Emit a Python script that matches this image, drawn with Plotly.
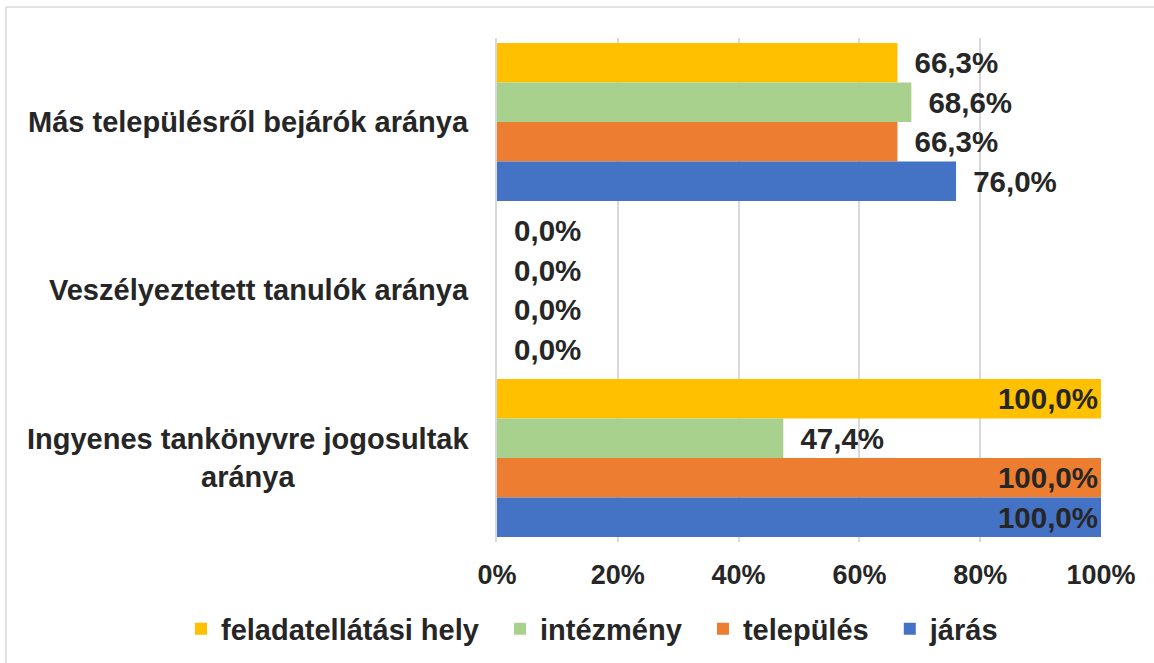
import plotly.graph_objects as go

categories = ["Más településről bejárók aránya",
              "Veszélyeztetett tanulók aránya",
              "Ingyenes tankönyvre jogosultak aránya"]
category_labels = ["Más településről bejárók aránya",
                   "Veszélyeztetett tanulók aránya",
                   "Ingyenes tankönyvre jogosultak<br>aránya"]
series_names = ["feladatellátási hely", "intézmény", "település", "járás"]
feladatellatasi_hely = [66.3, 0.0, 100.0]
intezmeny = [68.6, 0.0, 47.4]
telepules = [66.3, 0.0, 100.0]
jaras = [76.0, 0.0, 100.0]
x_tickvals = [0, 20, 40, 60, 80, 100]
x_ticktext = ["0%", "20%", "40%", "60%", "80%", "100%"]

colors = ["#FFC000", "#A9D18E", "#ED7D31", "#4472C4"]
TXT = "#262626"
FONT = "Liberation Sans, Arial, sans-serif"

W, H = 1154, 663
ML, MR, MT, MB = 497, 53, 38, 121
PW, PH = W - ML - MR, H - MT - MB

fig = go.Figure()
for name, vals, col in zip(series_names,
                           [feladatellatasi_hely, intezmeny, telepules, jaras],
                           colors):
    texts = ["\u00a0\u2009" + f"{v:.1f}".replace(".", ",") + "%" for v in vals]
    pos = ["inside" if v >= 100 else "outside" for v in vals]
    fig.add_trace(go.Bar(
        y=categories, x=vals, name=name + "\u00a0\u00a0", orientation="h",
        marker=dict(color=col, line=dict(width=0)),
        text=texts, textposition=pos, insidetextanchor="end",
        constraintext="none", cliponaxis=False, textangle=0,
        textfont=dict(family=FONT, size=29.5, color=TXT, weight="bold"),
        insidetextfont=dict(family=FONT, size=29.5, color=TXT, weight="bold"),
        outsidetextfont=dict(family=FONT, size=29.5, color=TXT, weight="bold"),
        hoverinfo="skip",
    ))

for cat, lab in zip(categories, category_labels):
    fig.add_annotation(
        x=0, xref="paper", xanchor="right", xshift=-26,
        y=cat, yref="y", yanchor="middle",
        text=lab, align="center", showarrow=False,
        font=dict(family=FONT, size=29, color=TXT, weight="bold"),
    )

# chart-area border (top and left edges visible in the reference)
bx0 = (6 - ML) / PW
bx1 = (W + 20 - ML) / PW
by_top = 1 + (MT - 7) / PH
by_bot = -(H + 20 - MT - PH) / PH
fig.add_shape(type="line", xref="paper", yref="paper",
              x0=bx0, x1=bx1, y0=by_top, y1=by_top,
              line=dict(color="#d9d9d9", width=1.5), layer="below")
fig.add_shape(type="line", xref="paper", yref="paper",
              x0=bx0, x1=bx0, y0=by_top, y1=by_bot,
              line=dict(color="#d9d9d9", width=1.5), layer="below")

fig.update_layout(
    width=W, height=H,
    margin=dict(l=ML, r=MR, t=MT, b=MB, pad=0, autoexpand=False),
    barmode="group", bargap=0.06, bargroupgap=0,
    paper_bgcolor="white", plot_bgcolor="white",
    showlegend=True,
    legend=dict(orientation="h",
                x=(181 - ML) / PW, xanchor="left",
                y=-(629 - (H - MB)) / PH, yanchor="middle",
                font=dict(family=FONT, size=29, color=TXT, weight="bold"),
                tracegroupgap=0, traceorder="normal",
                bgcolor="rgba(0,0,0,0)"),
    xaxis=dict(range=[0, 100], tickvals=x_tickvals, ticktext=x_ticktext,
               showgrid=True, gridcolor="#d9d9d9", gridwidth=1.5,
               zeroline=False, showline=False, ticks="", automargin=False,
               tickfont=dict(family=FONT, size=27, color=TXT, weight="bold"),
               ticklabelstandoff=14, fixedrange=True),
    yaxis=dict(autorange="reversed", showticklabels=False, ticks="",
               showline=True, linecolor="#d9d9d9", linewidth=1.5,
               showgrid=False, zeroline=False, fixedrange=True,
               automargin=False),
)

fig.write_html("out.html",
               config={"displayModeBar": False},
               post_script="document.body.style.margin='0';"
                           "document.body.style.overflow='hidden';")
